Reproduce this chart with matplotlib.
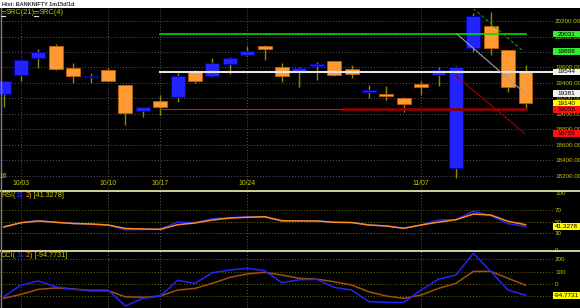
import numpy as np
import matplotlib

matplotlib.use("Agg")
import matplotlib.pyplot as plt  # noqa: E402
from matplotlib.patches import Rectangle  # noqa: E402

W, H = 580, 308
OLIVE = "#c8c800"
GRID = "#5a5a5a"
BLUE = "#2323ff"
ORANGE = "#ff9933"

# daily candles, index 0..30
opens = [19258, 19503, 19723, 19878, 19594, 19478, 19568, 19374, 19039, 19164,
         19223, 19559, 19490, 19641, 19761, 19874, 19603, 19546, 19623, 19684,
         19577, 19288, 19262, 19211, 19387, 19499, 18308, 19848, 20135, 19826, 19542]
highs = [19430, 19700, 19839, 19903, 19658, 19529, 19594, 19380, 19095, 19245,
         19533, 19568, 19719, 19740, 19877, 19886, 19654, 19610, 19675, 19690,
         19632, 19374, 19362, 19215, 19430, 19603, 19615, 20307, 20320, 19830, 19632]
lows = [19091, 19426, 19594, 19568, 19400, 19400, 19420, 18858, 18965, 18987,
        19159, 19396, 19481, 19512, 19748, 19697, 19409, 19352, 19439, 19494,
        19461, 19203, 19181, 19030, 19245, 19362, 18179, 19804, 19761, 19288, 19074]
closes = [19426, 19697, 19800, 19581, 19490, 19490, 19426, 19013, 19091, 19087,
          19490, 19430, 19662, 19719, 19813, 19835, 19487, 19598, 19645, 19507,
          19516, 19310, 19232, 19125, 19353, 19568, 19610, 20268, 19848, 19345, 19140]

date_idx = [1, 6, 9, 14, 24]
date_labels = ["10/03", "10/10", "10/17", "10/24", "11/07"]

rsi = [40.5, 48, 51.5, 48.7, 46.6, 45.7, 44, 35.8, 36.5, 36.5, 49, 48, 55, 56.7,
       58.4, 58.4, 50.4, 51.5, 51, 48.7, 48.3, 44, 42.3, 38.3, 44, 52.7, 53.2,
       67.8, 60.2, 46.3, 41.3278]
rsi_sig = [40.5, 48, 51, 48.7, 46.6, 45.7, 44, 38, 37, 36.5, 44.5, 47.5, 52.7, 56,
           57.4, 58.4, 51.5, 51, 51, 48.7, 48.3, 44, 42.3, 38.3, 44, 49, 53.2, 63,
           61.4, 50.4, 44.5]
cci = [-107, -11, 22, -25, -46, -52, -52, -182, -120, -101, 28, 3, 90, 112, 126,
       107, 8, 33, 36, -30, -52, -147, -153, -153, -52, 38, 71, 249, 101, -52, -94.7731]
cci_sig = [-120, -87, -46, -35, -43, -57, -57, -107, -112, -101, -52, -38, 3, 52,
           80, 93, 71, 44, 38, 16, -11, -66, -101, -120, -93, -38, 3, 101, 101, 44, -11]

# horizontal levels: (value, x start, x end, colour, width, tag colour)
levels = [(20031, 9, 30, "#00dd00", 1.2, "#33ee33"),
          (19544, 9, 31.6, "#e6e6e6", 1.5, "#f2f2f2"),
          (19058, 9, 19.5, "#ff0000", 0.8, "#ff1010")]
# trend lines: (x0, y0, x1, y1, colour, style, tag text, tag colour)
trends = [(26.98, 20364, 29.91, 19804, "#00a000", (0, (3, 2)), "19808", "#33ee33"),
          (26.06, 20032, 29.97, 19268, "#a0a0a0", "-", "19381", "#f2f2f2"),
          (26.0, 19490, 29.97, 18748, "#a00000", "-", "18755", "#ff1010")]

fig = plt.figure(figsize=(W / 100, H / 100), dpi=100, facecolor="black")
plt.rcParams["font.family"] = ["Liberation Sans", "DejaVu Sans"]


def panel(top, bottom):
    a = fig.add_axes([0, 1 - bottom / H, 553 / W, (bottom - top) / H])
    a.set_facecolor("black")
    for s in a.spines.values():
        s.set_visible(False)
    a.set_xlim(-0.21, 31.58)
    a.set_xticks([])
    a.yaxis.tick_right()
    a.tick_params(axis="y", length=0, pad=1.5, labelsize=4.5, labelcolor=OLIVE)
    for d in date_idx:
        a.axvline(d, color=GRID, lw=0.7, ls=(0, (1, 2)), zorder=0)
    return a


def tag(ax, value, text, bg):
    py = ax.transData.transform((0, value))[1]
    fig.add_artist(Rectangle((553 / W, (py - 3.3) / H), 27 / W, 6.6 / H,
                             transform=fig.transFigure, facecolor=bg,
                             edgecolor="none", zorder=5))
    fig.text(566.5 / W, py / H, text, ha="center", va="center", fontsize=4.6,
             color="black", zorder=6)


def colored_text(px, py, parts, size=5.2):
    r = fig.canvas.get_renderer()
    x = px
    for s, c in parts:
        t = fig.text(x / W, 1 - py / H, s, color=c, fontsize=size, va="center")
        x += t.get_window_extent(r).width


# ---- main price panel
ax = panel(9, 191)
ax.set_ylim(18006, 20355)
ax.set_yticks(range(18200, 20201, 200))
ax.set_yticklabels([f"{v:.2f}" for v in range(18200, 20201, 200)])
ax.grid(axis="y", color=GRID, lw=0.7, ls=(0, (1, 2)))

o, hi, lo, c = map(np.array, (opens, highs, lows, closes))
idx = np.arange(len(o))
up = c >= o
ax.vlines(idx, lo, hi, color="#8a8a00", lw=1, zorder=2)
body = np.maximum(np.abs(c - o), 14)
ax.bar(idx[up], body[up], bottom=np.minimum(o, c)[up], width=0.8,
       color=BLUE, edgecolor="#0000aa", lw=0.6, zorder=3)
ax.bar(idx[~up], body[~up], bottom=np.minimum(o, c)[~up], width=0.8,
       color=ORANGE, edgecolor="#c06000", lw=0.6, zorder=3)

for val, x0, x1, col, lw, tcol in levels:
    ax.plot([x0, x1], [val, val], color=col, lw=lw, zorder=4)
    tag(ax, val, str(val), tcol)
ax.plot([19.5, 30], [19058, 19058], color="#8b0000", lw=2, zorder=4)
for x0, y0, x1, y1, col, ls, txt, tcol in trends:
    ax.plot([x0, x1], [y0, y1], color=col, lw=0.8, ls=ls, zorder=4)
    tag(ax, y1, txt, tcol)
tag(ax, closes[-1], str(closes[-1]), "#ffff00")

for d, lab in zip(date_idx, date_labels):
    ax.text(d, 0.04, lab, transform=ax.get_xaxis_transform(), ha="center",
            va="center", fontsize=4.9, color=OLIVE)

# ---- RSI panel
ax2 = panel(191, 251)
ax2.set_ylim(-1.2, 103.1)
ax2.set_yticks([0, 30, 50, 70, 100])
for v in (30, 50, 70):
    ax2.axhline(v, color="#707000", lw=0.7, ls=(0, (1, 2)), zorder=0)
ax2.plot(idx, rsi, color=BLUE, lw=1.1)
ax2.plot(idx, rsi_sig, color="#ff8c1a", lw=1.1)
tag(ax2, rsi[-1], f"{rsi[-1]:.4f}", "#ffff00")

# ---- CCI panel
ax3 = panel(251, 308)
ax3.set_ylim(-199, 268)
ax3.set_yticks([-100, 0, 100, 200])
for v in (-100, 0, 100, 200):
    ax3.axhline(v, color="#707000", lw=0.7, ls=(0, (1, 2)), zorder=0)
ax3.plot(idx, cci_sig, color="#a0500a", lw=1.1)
ax3.plot(idx, cci, color=BLUE, lw=1.1)
tag(ax3, cci[-1], f"{cci[-1]:.4f}", "#ffff00")

# ---- frame, title bar, labels
fig.add_artist(Rectangle((0, 1 - 8 / H), 1, 8 / H, transform=fig.transFigure,
                         facecolor="white", edgecolor="none", zorder=5))
for py in (191, 251):
    fig.add_artist(plt.Line2D([0, 1], [1 - py / H] * 2, color="#f5f5b0", lw=1.2))
fig.add_artist(plt.Line2D([0.5 / W] * 2, [0, 1 - 8 / H], color="#808080", lw=1))
fig.text(2 / W, 1 - 4 / H, "Hist: BANKNIFTY 1m15d/1d", fontsize=4.0,
         fontweight="bold", color="#303030", va="center", zorder=6)
for px in (1, 34):
    for dy, cc in ((10.5, "#00cc00"), (13, "#cc0000"), (15.5, "#e0e0e0")):
        fig.add_artist(plt.Line2D([px / W, (px + 4) / W], [1 - dy / H] * 2,
                                  color=cc, lw=0.8))
fig.text(6 / W, 1 - 13 / H, "SRC(21)", fontsize=5.4, color=OLIVE, va="center")
fig.text(39 / W, 1 - 13 / H, "SRC(4)", fontsize=5.4, color=OLIVE, va="center")
fig.text(0, 1 - 176 / H, "16", fontsize=4.8, color=OLIVE, va="center")
colored_text(1, 195.5, [("RSI(", OLIVE), ("11", "#3030ff"), (" ", OLIVE),
                        ("2", "#ff8c1a"), (") [41.3278]", OLIVE)])
colored_text(1, 255.5, [("CCI(", OLIVE), ("11", "#3030ff"), (" ", OLIVE),
                        ("2", "#ff8c1a"), (") [-94.7731]", OLIVE)])

fig.savefig("out.png", dpi=100, facecolor="black")
